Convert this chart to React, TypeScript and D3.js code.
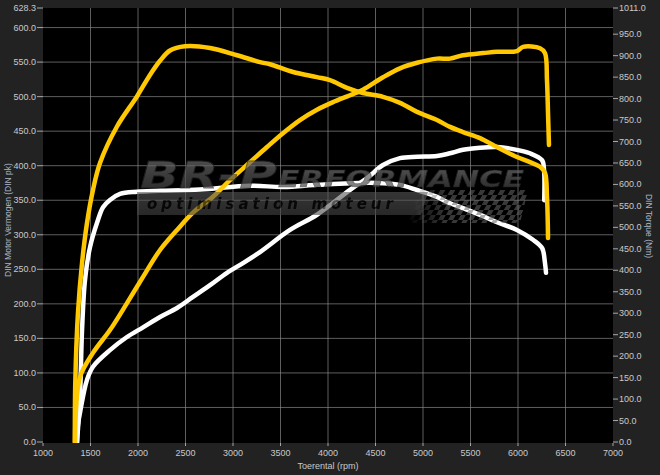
import React from "react";
import * as d3 from "d3";

// ---- data ----
const xTicks = [1000, 1500, 2000, 2500, 3000, 3500, 4000, 4500, 5000, 5500, 6000, 6500, 7000];
const leftTicks = [0, 50, 100, 150, 200, 250, 300, 350, 400, 450, 500, 550, 600, 628.3];
const rightTicks = [0, 50, 100, 150, 200, 250, 300, 350, 400, 450, 500, 550, 600, 650, 700, 750, 800, 850, 900, 950, 1011];

// White (stock) power, DIN pk
const whitePowerRpm = [1358, 1368, 1389, 1463, 1526, 1705, 1884, 2053, 2232, 2411, 2579, 2758, 2937, 3105, 3284, 3600, 3884, 4232, 4411, 4579, 4758, 4937, 5147, 5284, 5421, 5600, 5779, 5947, 6126, 6253, 6274, 6276];
const whitePower = [0, 25, 42, 90, 109, 133, 152, 166, 181, 194, 210, 227, 245, 259, 275, 307, 329, 365, 382, 401, 411, 413, 414, 418, 423, 426, 427, 424, 418, 408, 394, 350];

// White (stock) torque, Nm
const whiteTorqueRpm = [1358, 1389, 1411, 1442, 1495, 1568, 1632, 1705, 1811, 1989, 2232, 2653, 3179, 3526, 3884, 4232, 4579, 4758, 4937, 5147, 5253, 5421, 5600, 5779, 5989, 6158, 6253, 6284, 6295];
const whiteTorque = [0, 105, 261, 377, 454, 510, 547, 564, 578, 583, 585, 588, 597, 594, 599, 603, 603, 599, 587, 571, 559, 545, 529, 512, 494, 471, 452, 417, 394];

// Yellow (tuned) power, DIN pk
const yellowPowerRpm = [1337, 1347, 1389, 1526, 1705, 1884, 2053, 2232, 2411, 2579, 2789, 2968, 3179, 3358, 3526, 3705, 3884, 4053, 4232, 4368, 4579, 4758, 4937, 5147, 5284, 5421, 5632, 5779, 5989, 6053, 6232, 6284, 6305, 6316, 6326];
const yellowPower = [0, 46, 94, 129, 162, 201, 239, 278, 307, 332, 355, 379, 405, 427, 447, 466, 481, 492, 502, 510, 528, 541, 549, 555, 555, 560, 563, 565, 566, 572, 570, 563, 524, 476, 430];

// Yellow (tuned) torque, Nm
const yellowTorqueRpm = [1335, 1340, 1368, 1411, 1463, 1526, 1600, 1779, 1989, 2126, 2232, 2337, 2495, 2758, 3042, 3284, 3389, 3632, 3884, 4021, 4200, 4368, 4579, 4758, 4937, 5147, 5284, 5421, 5600, 5779, 5989, 6126, 6232, 6284, 6305, 6316];
const yellowTorque = [0, 140, 300, 417, 510, 587, 650, 735, 805, 855, 888, 912, 922, 918, 901, 885, 880, 862, 850, 843, 825, 813, 804, 790, 769, 750, 734, 722, 708, 687, 664, 652, 641, 627, 571, 475];

const W = 660;
const H = 475;
const plot = { left: 43, right: 613, top: 8, bottom: 442 };

export default function App() {
  const x = d3.scaleLinear().domain([1000, 7000]).range([plot.left, plot.right]);
  const yL = d3.scaleLinear().domain([0, 628.3]).range([plot.bottom, plot.top]);
  const yR = d3.scaleLinear().domain([0, 1011]).range([plot.bottom, plot.top]);

  const mk = (rpms: number[], vals: number[], y: d3.ScaleLinear<number, number>) => {
    const pts: [number, number][] = rpms.map((r, i) => [r, vals[i]]);
    return d3
      .line<[number, number]>()
      .x((d) => x(d[0]))
      .y((d) => y(d[1]))
      .curve(d3.curveCatmullRom.alpha(0.5))(pts) as string;
  };

  const tickColor = "#c9c9c9";
  const gridColor = "#8c8c8c";
  const font = "'Liberation Sans', Arial, sans-serif";

  return (
    <svg
      width={W}
      height={H}
      style={{ position: "absolute", left: 0, top: 0, display: "block" }}
      fontFamily={font}
    >
      <defs>
        <clipPath id="plotClip">
          <rect x={plot.left} y={plot.top} width={plot.right - plot.left} height={plot.bottom - plot.top + 1} />
        </clipPath>
        <linearGradient id="logoGrad" x1="0" y1="0" x2="0" y2="1">
          <stop offset="0" stopColor="#7a7a7a" />
          <stop offset="0.5" stopColor="#555" />
          <stop offset="1" stopColor="#3a3a3a" />
        </linearGradient>
        <linearGradient id="barGrad" x1="0" y1="0" x2="0" y2="1">
          <stop offset="0" stopColor="#5a5a5a" />
          <stop offset="1" stopColor="#444" />
        </linearGradient>
        <pattern id="checker" width="10" height="10" patternUnits="userSpaceOnUse" patternTransform="skewX(-30)">
          <rect x="0" y="0" width="5" height="5" fill="#666" />
          <rect x="5" y="5" width="5" height="5" fill="#666" />
        </pattern>
        <linearGradient id="fadeGrad" x1="0" y1="0" x2="1" y2="0">
          <stop offset="0" stopColor="#fff" stopOpacity="0" />
          <stop offset="0.35" stopColor="#fff" stopOpacity="1" />
          <stop offset="1" stopColor="#fff" stopOpacity="1" />
        </linearGradient>
        <mask id="fadeMask">
          <rect x="405" y="185" width="125" height="40" fill="url(#fadeGrad)" />
        </mask>
      </defs>

      <rect x={0} y={0} width={W} height={H} fill="#222222" />
      <rect x={plot.left} y={plot.top} width={plot.right - plot.left} height={plot.bottom - plot.top + 1} fill="#000" />

      {/* grid */}
      <g stroke={gridColor} strokeWidth={0.8} strokeOpacity={0.85}>
        {xTicks.slice(1, -1).map((t) => (
          <line key={"gx" + t} x1={x(t)} x2={x(t)} y1={plot.top} y2={plot.bottom + 1} />
        ))}
        {leftTicks.filter((t) => t > 0 && t <= 600).map((t) => (
          <line key={"gy" + t} x1={plot.left} x2={plot.right} y1={yL(t)} y2={yL(t)} />
        ))}
      </g>

      {/* curves */}
      <g clipPath="url(#plotClip)" fill="none" strokeLinecap="round" strokeLinejoin="round">
        <path d={mk(whitePowerRpm, whitePower, yL)} stroke="#ffffff" strokeWidth={4.5} />
        <path d={mk(whiteTorqueRpm, whiteTorque, yR)} stroke="#ffffff" strokeWidth={4.5} />
        <path d={mk(yellowPowerRpm, yellowPower, yL)} stroke="#ffc800" strokeWidth={4.5} />
        <path d={mk(yellowTorqueRpm, yellowTorque, yR)} stroke="#ffc800" strokeWidth={4.5} />
      </g>

      {/* watermark logo */}
      <g opacity={0.7}>
        <polygon points="137,192 428,192 421,215 137,215" fill="url(#barGrad)" opacity={0.85} />
        <text
          x={147}
          y={209}
          fontSize={15}
          fontWeight="bold"
          fontStyle="italic"
          fill="#0b0b0b"
          textLength={246}
          lengthAdjust="spacing"
          fontFamily="'DejaVu Sans', sans-serif"
        >
          optimisation moteur
        </text>
        <g mask="url(#fadeMask)" opacity={0.8}>
          <polygon points="420,190 528,190 520,223 408,223" fill="url(#checker)" />
        </g>
        <text
          x={140}
          y={188}
          fontSize={38}
          fontWeight="bold"
          fontStyle="italic"
          fill="url(#logoGrad)"
          stroke="#2a2a2a"
          strokeWidth={0.8}
          textLength={137}
          lengthAdjust="spacingAndGlyphs"
          fontFamily="'DejaVu Sans', sans-serif"
        >
          BR-P
        </text>
        <text
          x={278}
          y={187}
          fontSize={23}
          fontWeight="bold"
          fontStyle="italic"
          fill="url(#logoGrad)"
          stroke="#2a2a2a"
          strokeWidth={0.6}
          textLength={246}
          lengthAdjust="spacingAndGlyphs"
          fontFamily="'DejaVu Sans', sans-serif"
        >
          ERFORMANCE
        </text>
      </g>

      {/* x axis */}
      <g fontSize={9} fill={tickColor}>
        {xTicks.map((t) => (
          <g key={"xt" + t}>
            <line x1={x(t)} x2={x(t)} y1={plot.bottom + 1} y2={plot.bottom + 4} stroke={tickColor} strokeWidth={0.8} />
            <text x={x(t)} y={456} textAnchor="middle">
              {t}
            </text>
          </g>
        ))}
      </g>
      <text x={(plot.left + plot.right) / 2} y={469} textAnchor="middle" fontSize={9} fill={tickColor}>
        Toerental (rpm)
      </text>

      {/* left axis */}
      <g fontSize={9} fill={tickColor}>
        {leftTicks.map((t) => (
          <g key={"lt" + t}>
            <line x1={plot.left - 6} x2={plot.left} y1={yL(t)} y2={yL(t)} stroke={tickColor} strokeWidth={0.8} />
            <text x={plot.left - 7} y={yL(t) + 3} textAnchor="end">
              {t.toFixed(1)}
            </text>
          </g>
        ))}
      </g>
      <text
        transform={`translate(11, 220) rotate(-90)`}
        textAnchor="middle"
        fontSize={8.5}
        fill="#aab4c6"
      >
        DIN Motor Vermogen (DIN pk)
      </text>

      {/* right axis */}
      <g fontSize={9} fill={tickColor}>
        {rightTicks.map((t) => (
          <g key={"rt" + t}>
            <line x1={plot.right} x2={plot.right + 5} y1={yR(t)} y2={yR(t)} stroke={tickColor} strokeWidth={0.8} />
            <text x={plot.right + 6} y={yR(t) + 3} textAnchor="start">
              {t.toFixed(1)}
            </text>
          </g>
        ))}
      </g>
      <text
        transform={`translate(646, 226) rotate(90)`}
        textAnchor="middle"
        fontSize={8.5}
        fill="#aab4c6"
      >
        DIN Torque (Nm)
      </text>
    </svg>
  );
}
